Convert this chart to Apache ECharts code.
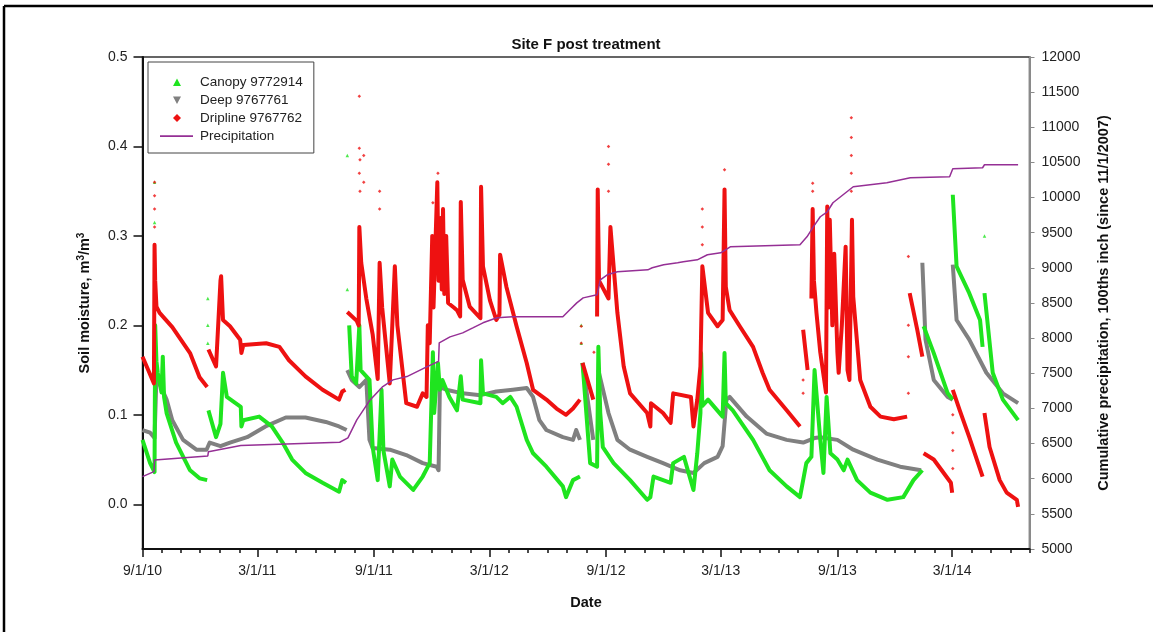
<!DOCTYPE html>
<html>
<head>
<meta charset="utf-8">
<script src="https://cdn.jsdelivr.net/npm/echarts@6/dist/echarts.min.js"></script>
<style>
  html, body { margin: 0; padding: 0; background: #fff; }
  #chart { width: 1153px; height: 632px; }
</style>
</head>
<body>
<div id="chart"></div>
<script>
// soil moisture readings, one list per logger, split where the logger has gaps
const canopySegments = [
  [['2010-09-01',0.072],['2010-09-13',0.046],['2010-09-20',0.036],['2010-09-21',0.20],['2010-09-23',0.16],['2010-09-25',0.147],['2010-10-01',0.125],['2010-10-03',0.165],['2010-10-05',0.12],['2010-10-09',0.102],['2010-10-24',0.069],['2010-11-15',0.038],['2010-11-30',0.029],['2010-12-12',0.027]],
  [['2010-12-14',0.105],['2010-12-26',0.075],['2011-01-02',0.09],['2011-01-06',0.147],['2011-01-12',0.12],['2011-02-03',0.109],['2011-02-04',0.087],['2011-02-07',0.094],['2011-03-04',0.098],['2011-03-24',0.087],['2011-04-10',0.069],['2011-04-25',0.05],['2011-05-16',0.035],['2011-06-12',0.024],['2011-07-08',0.014],['2011-07-13',0.027],['2011-07-19',0.024]],
  [['2011-07-24',0.20],['2011-07-28',0.143],['2011-08-04',0.135],['2011-08-09',0.20],['2011-08-11',0.15],['2011-08-25',0.139],['2011-08-30',0.064],['2011-09-07',0.027],['2011-09-13',0.128],['2011-09-16',0.06],['2011-09-26',0.02],['2011-09-30',0.05],['2011-10-12',0.031],['2011-11-02',0.016],['2011-11-17',0.031],['2011-11-28',0.046],['2011-12-03',0.17],['2011-12-05',0.102],['2011-12-11',0.158],['2011-12-14',0.128],['2011-12-18',0.139],['2011-12-29',0.12],['2012-01-10',0.105],['2012-01-16',0.143],['2012-01-19',0.117],['2012-02-16',0.113],['2012-02-17',0.161],['2012-02-20',0.124],['2012-03-12',0.12],['2012-03-22',0.113],['2012-04-03',0.12],['2012-04-13',0.109],['2012-04-29',0.072],['2012-05-09',0.057],['2012-05-30',0.042],['2012-06-25',0.02],['2012-06-30',0.008],['2012-07-11',0.027],['2012-07-22',0.031]],
  [['2012-07-26',0.158],['2012-08-07',0.046],['2012-08-18',0.042],['2012-08-20',0.176],['2012-08-23',0.102],['2012-08-27',0.064],['2012-09-13',0.046],['2012-10-09',0.027],['2012-11-05',0.005],['2012-11-10',0.008],['2012-11-15',0.031],['2012-12-12',0.024],['2012-12-16',0.046],['2013-01-02',0.053],['2013-01-17',0.016],['2013-01-23',0.057],['2013-01-28',0.102],['2013-01-29',0.169],['2013-01-31',0.11],['2013-02-09',0.117],['2013-03-04',0.098],['2013-03-07',0.169],['2013-03-09',0.113],['2013-03-20',0.105],['2013-04-21',0.072],['2013-05-17',0.038],['2013-06-13',0.02],['2013-07-04',0.008],['2013-07-14',0.046],['2013-07-22',0.053],['2013-07-27',0.15],['2013-08-05',0.072],['2013-08-10',0.035],['2013-08-15',0.12],['2013-08-21',0.057],['2013-09-01',0.05],['2013-09-11',0.038],['2013-09-17',0.05],['2013-10-02',0.027],['2013-10-23',0.013],['2013-11-19',0.005],['2013-12-14',0.008],['2013-12-30',0.027],['2014-01-13',0.038]],
  [['2014-01-15',0.199],['2014-01-31',0.169],['2014-02-22',0.124],['2014-03-02',0.117]],
  [['2014-03-02',0.346],['2014-03-08',0.266],['2014-03-28',0.236],['2014-04-14',0.206],['2014-04-18',0.176]],
  [['2014-04-21',0.236],['2014-05-04',0.147],['2014-05-20',0.117],['2014-06-13',0.094]]
];
const canopyDots = [['2010-09-20',0.36],['2010-09-20',0.315],['2010-09-20',0.25],['2010-12-13',0.23],['2010-12-13',0.2],['2010-12-13',0.18],['2011-07-21',0.39],['2011-07-21',0.24],['2012-07-24',0.2],['2012-07-24',0.18],['2014-04-21',0.30]];

const deepSegments = [
  [['2010-09-01',0.083],['2010-09-13',0.08],['2010-09-20',0.074],['2010-09-23',0.143],['2010-10-09',0.117],['2010-10-18',0.094],['2010-11-04',0.072],['2010-11-25',0.061],['2010-12-11',0.061],['2010-12-16',0.069],['2011-01-02',0.065],['2011-01-17',0.069],['2011-02-13',0.075],['2011-03-14',0.087],['2011-04-15',0.097],['2011-05-16',0.097],['2011-06-17',0.092],['2011-07-08',0.087],['2011-07-20',0.083]],
  [['2011-07-21',0.15],['2011-07-28',0.139],['2011-08-09',0.131],['2011-08-20',0.139],['2011-08-25',0.072],['2011-08-30',0.063],['2011-09-26',0.061],['2011-10-22',0.055],['2011-11-17',0.046],['2011-12-09',0.042],['2011-12-12',0.038],['2011-12-14',0.131],['2011-12-24',0.128],['2012-01-19',0.124],['2012-02-16',0.122],['2012-03-12',0.126],['2012-04-07',0.128],['2012-04-29',0.13],['2012-05-09',0.12],['2012-05-19',0.094],['2012-05-30',0.083],['2012-06-25',0.075],['2012-07-11',0.072],['2012-07-16',0.083],['2012-07-22',0.072]],
  [['2012-07-26',0.158],['2012-08-12',0.072]],
  [['2012-08-20',0.15],['2012-09-05',0.102],['2012-09-19',0.072],['2012-10-09',0.061],['2012-11-05',0.053],['2012-11-30',0.046],['2012-12-27',0.038],['2013-01-17',0.035],['2013-02-03',0.046],['2013-02-24',0.053],['2013-03-04',0.065],['2013-03-10',0.117],['2013-03-15',0.12],['2013-04-11',0.098],['2013-05-12',0.079],['2013-06-13',0.072],['2013-07-09',0.069],['2013-07-27',0.074],['2013-08-05',0.075],['2013-09-01',0.072],['2013-09-26',0.061],['2013-11-03',0.05],['2013-12-09',0.042],['2014-01-11',0.038]],
  [['2014-01-13',0.27],['2014-01-18',0.184],['2014-01-31',0.139],['2014-02-22',0.12],['2014-03-02',0.117]],
  [['2014-03-02',0.268],['2014-03-08',0.206],['2014-03-28',0.184],['2014-04-24',0.147],['2014-05-20',0.124],['2014-06-13',0.113]]
];

const driplineSegments = [
  [['2010-09-01',0.165],['2010-09-10',0.15],['2010-09-19',0.135],['2010-09-20',0.29],['2010-09-21',0.25],['2010-09-23',0.221],['2010-09-28',0.214],['2010-10-18',0.198],['2010-11-15',0.169],['2010-11-30',0.142],['2010-12-12',0.131]],
  [['2010-12-14',0.173],['2010-12-26',0.154],['2011-01-02',0.25],['2011-01-03',0.255],['2011-01-06',0.206],['2011-01-17',0.199],['2011-02-02',0.184],['2011-02-04',0.169],['2011-02-07',0.178],['2011-03-15',0.18],['2011-04-05',0.176],['2011-04-20',0.161],['2011-05-16',0.143],['2011-06-12',0.128],['2011-07-08',0.117],['2011-07-13',0.126],['2011-07-18',0.128]],
  [['2011-07-21',0.215],['2011-08-05',0.205],['2011-08-08',0.20],['2011-08-09',0.31],['2011-08-12',0.27],['2011-08-20',0.23],['2011-08-30',0.19],['2011-09-07',0.14],['2011-09-10',0.27],['2011-09-14',0.22],['2011-09-26',0.135],['2011-10-04',0.266],['2011-10-08',0.2],['2011-10-22',0.113],['2011-11-08',0.109],['2011-11-17',0.124],['2011-11-23',0.12],['2011-11-25',0.2],['2011-11-28',0.18],['2011-12-02',0.30],['2011-12-04',0.22],['2011-12-10',0.36],['2011-12-12',0.25],['2011-12-15',0.32],['2011-12-17',0.24],['2011-12-19',0.33],['2011-12-21',0.235],['2011-12-24',0.30],['2011-12-27',0.225],['2012-01-05',0.22],['2012-01-10',0.217],['2012-01-15',0.21],['2012-01-16',0.338],['2012-01-19',0.251],['2012-01-30',0.221],['2012-02-16',0.208],['2012-02-17',0.355],['2012-02-20',0.266],['2012-03-02',0.228],['2012-03-12',0.206],['2012-03-17',0.212],['2012-03-18',0.279],['2012-03-28',0.243],['2012-04-13',0.199],['2012-04-29',0.158],['2012-05-09',0.128],['2012-05-30',0.117],['2012-06-15',0.107],['2012-06-30',0.10],['2012-07-11',0.107],['2012-07-22',0.117]],
  [['2012-07-26',0.158],['2012-08-12',0.117]],
  [['2012-08-18',0.21],['2012-08-19',0.352],['2012-08-21',0.25],['2012-09-05',0.23],['2012-09-08',0.31],['2012-09-19',0.214],['2012-09-29',0.154],['2012-10-09',0.124],['2012-11-05',0.102],['2012-11-10',0.087],['2012-11-11',0.113],['2012-11-30',0.102],['2012-12-12',0.091],['2012-12-16',0.124],['2013-01-13',0.12],['2013-01-17',0.087],['2013-01-23',0.117],['2013-01-28',0.154],['2013-01-31',0.266],['2013-02-09',0.214],['2013-02-24',0.199],['2013-03-04',0.206],['2013-03-07',0.352],['2013-03-09',0.243],['2013-03-15',0.217],['2013-03-31',0.199],['2013-04-21',0.176],['2013-05-06',0.147],['2013-05-17',0.128],['2013-06-13',0.105],['2013-07-04',0.087]],
  [['2013-07-09',0.195],['2013-07-16',0.15]],
  [['2013-07-22',0.23],['2013-07-24',0.33],['2013-07-26',0.25],['2013-07-30',0.214],['2013-08-05',0.17],['2013-08-14',0.125],['2013-08-16',0.333],['2013-08-18',0.22],['2013-08-20',0.318],['2013-08-24',0.2],['2013-08-27',0.28],['2013-09-01',0.17],['2013-09-03',0.147],['2013-09-08',0.2],['2013-09-14',0.288],['2013-09-17',0.15],['2013-09-20',0.139],['2013-09-24',0.318],['2013-09-26',0.232],['2013-10-07',0.139],['2013-10-23',0.109],['2013-11-08',0.098],['2013-11-29',0.095],['2013-12-20',0.098]],
  [['2013-12-24',0.236],['2014-01-05',0.195],['2014-01-13',0.165]],
  [['2014-01-15',0.057],['2014-01-31',0.05],['2014-02-27',0.024],['2014-03-01',0.013]],
  [['2014-03-02',0.128],['2014-03-13',0.105],['2014-03-28',0.075],['2014-04-18',0.031]],
  [['2014-04-21',0.102],['2014-04-29',0.064],['2014-05-15',0.027],['2014-05-26',0.013],['2014-06-11',0.005],['2014-06-13',-0.003]]
];
const driplineDots = [['2010-09-20',0.36],['2010-09-20',0.345],['2010-09-20',0.33],['2010-09-20',0.31],['2011-08-09',0.456],['2011-08-09',0.398],['2011-08-10',0.385],['2011-08-09',0.37],['2011-08-10',0.35],['2011-08-16',0.39],['2011-08-16',0.36],['2011-09-10',0.35],['2011-09-10',0.33],['2011-12-03',0.337],['2011-12-11',0.37],['2012-09-05',0.40],['2012-09-05',0.38],['2012-09-05',0.35],['2012-07-24',0.199],['2012-07-24',0.18],['2012-08-13',0.17],['2013-01-31',0.33],['2013-01-31',0.31],['2013-01-31',0.29],['2013-03-07',0.374],['2013-07-24',0.359],['2013-07-24',0.35],['2013-09-23',0.432],['2013-09-23',0.41],['2013-09-23',0.39],['2013-09-23',0.37],['2013-09-23',0.35],['2013-12-22',0.277],['2013-12-22',0.2],['2013-12-22',0.165],['2013-12-22',0.124],['2014-03-02',0.04],['2014-03-02',0.06],['2014-03-02',0.08],['2014-03-02',0.10],['2013-07-09',0.139],['2013-07-09',0.124]];

// cumulative precipitation, 100ths inch since 11/1/2007
const precipitation = [['2010-09-01',6029],['2010-09-19',6100],['2010-09-20',6267],['2010-12-13',6324],['2010-12-14',6385],['2011-02-03',6471],['2011-07-09',6519],['2011-07-22',6580],['2011-08-05',6837],['2011-08-26',7121],['2011-09-15',7311],['2011-10-01',7406],['2011-10-23',7453],['2011-11-24',7595],['2011-12-12',7670],['2011-12-13',7933],['2011-12-30',8018],['2012-01-19',8075],['2012-02-04',8146],['2012-02-20',8218],['2012-03-13',8289],['2012-04-07',8303],['2012-06-25',8303],['2012-07-06',8403],['2012-07-17',8502],['2012-07-27',8573],['2012-08-18',8616],['2012-08-23',8830],['2012-09-03',8901],['2012-09-19',8944],['2012-11-06',8972],['2012-11-13',9001],['2012-12-01',9043],['2012-12-23',9072],['2013-01-01',9086],['2013-01-23',9114],['2013-02-08',9186],['2013-03-01',9214],['2013-03-16',9300],['2013-07-04',9328],['2013-07-15',9442],['2013-07-25',9584],['2013-08-05',9727],['2013-08-16',9798],['2013-08-25',9926],['2013-09-16',10083],['2013-09-26',10154],['2013-11-18',10211],['2013-12-25',10282],['2014-02-25',10296],['2014-03-02',10410],['2014-04-18',10424],['2014-04-21',10467],['2014-06-13',10467]];

// axis ticks
const moistureTicks = [0, 0.1, 0.2, 0.3, 0.4, 0.5];
const majorDates = ['2010-09-01','2011-03-01','2011-09-01','2012-03-01','2012-09-01','2013-03-01','2013-09-01','2014-03-01'];

const FONT = '"Liberation Sans", Arial, sans-serif';
const GREEN = '#1fe41f', GRAY = '#808080', RED = '#ee1111', PURPLE = '#952f95';

function ts(s) {
  var p = s.split('-');
  return Date.UTC(+p[0], +p[1] - 1, +p[2]);
}
function points(list) {
  return list.map(function (p) { return [ts(p[0]), p[1]]; });
}
// join segments, '-' breaks the line between them
function joinSegments(segs) {
  var out = [];
  segs.forEach(function (s, i) {
    if (i > 0) out.push([ts(s[0][0]), '-']);
    points(s).forEach(function (p) { out.push(p); });
  });
  return out;
}

var majorTicks = majorDates.map(ts);
var monthTicks = [];
for (var m = 0; m <= 46; m++) monthTicks.push(Date.UTC(2010, 8 + m, 1));
var xMin = Date.UTC(2010, 8, 1), xMax = Date.UTC(2014, 6, 1);

function lineSeries(name, segs, color) {
  return {
    name: name, type: 'line', data: joinSegments(segs),
    showSymbol: false, symbol: 'none', connectNulls: false,
    lineStyle: { color: color, width: 4, join: 'round' },
    itemStyle: { color: color }
  };
}
function dotSeries(name, dots, color, symbol) {
  return {
    name: name, type: 'scatter', data: points(dots), symbol: symbol, symbolSize: 3.5,
    itemStyle: { color: color }
  };
}

// legend icons: the leading moves fix the 35x9 box so the marks keep their shape
var ICON_BOX = 'M0,0 M35,9 ';

var myChart = echarts.init(document.getElementById('chart'), null, { renderer: 'canvas' });
myChart.setOption({
  animation: false,
  backgroundColor: '#fff',
  textStyle: { fontFamily: FONT },
  title: {
    text: 'Site F post treatment',
    left: 586, top: 37, textAlign: 'center', padding: 0,
    textStyle: { fontSize: 15, fontWeight: 'bold', color: '#111', fontFamily: FONT }
  },
  legend: {
    orient: 'vertical', left: 148, top: 62,
    padding: [13, 11, 10, 12],
    itemWidth: 35, itemHeight: 9, itemGap: 4,
    borderColor: '#444', borderWidth: 1,
    textStyle: { fontSize: 13.5, color: '#222', fontFamily: FONT },
    data: [
      { name: 'Canopy 9772914', icon: 'path://' + ICON_BOX + 'M13,8.5 L17,1 L21,8.5 Z', itemStyle: { color: GREEN } },
      { name: 'Deep 9767761', icon: 'path://' + ICON_BOX + 'M13,1 L21,1 L17,8.5 Z', itemStyle: { color: GRAY } },
      { name: 'Dripline 9767762', icon: 'path://' + ICON_BOX + 'M17,0.5 L21,4.5 L17,8.5 L13,4.5 Z', itemStyle: { color: RED } },
      { name: 'Precipitation', icon: 'path://' + ICON_BOX + 'M0,3.8 L33,3.8 L33,5.4 L0,5.4 Z', itemStyle: { color: PURPLE } }
    ]
  },
  grid: {
    left: 142.5, right: 123.5, top: 57, bottom: 83,
    show: true, borderColor: '#333', borderWidth: 1.5
  },
  xAxis: [{
    type: 'value', min: xMin, max: xMax,
    name: 'Date', nameLocation: 'middle', nameGap: 46,
    nameTextStyle: { fontSize: 14.5, fontWeight: 'bold', color: '#111' },
    axisLine: { onZero: false, lineStyle: { color: '#111', width: 2 } },
    axisTick: { customValues: majorTicks, length: 8, lineStyle: { color: '#111', width: 1.5 } },
    axisLabel: {
      customValues: majorTicks, fontSize: 14, color: '#222', margin: 15,
      formatter: function (v) {
        var d = new Date(v);
        return (d.getUTCMonth() + 1) + '/' + d.getUTCDate() + '/' + String(d.getUTCFullYear()).slice(2);
      }
    },
    splitLine: { show: false }
  }, {
    type: 'value', min: xMin, max: xMax, position: 'bottom',
    axisLine: { show: false, onZero: false },
    axisTick: { customValues: monthTicks, length: 4, lineStyle: { color: '#111', width: 1.5 } },
    axisLabel: { show: false },
    splitLine: { show: false }
  }],
  yAxis: [{
    type: 'value', min: -0.05, max: 0.5,
    name: 'Soil moisture, m{sup|3}/m{sup|3}', nameLocation: 'middle', nameGap: 50, nameRotate: 90,
    nameTextStyle: {
      fontSize: 14.5, fontWeight: 'bold', color: '#111',
      rich: { sup: { fontSize: 10, fontWeight: 'bold', color: '#111', verticalAlign: 'top', padding: [0, 0, 6, 0] } }
    },
    axisLine: { show: true, onZero: false, lineStyle: { color: '#111', width: 2 } },
    axisTick: { show: true, customValues: moistureTicks, length: 9, lineStyle: { color: '#111', width: 1.5 } },
    axisLabel: {
      customValues: moistureTicks, fontSize: 14, color: '#222', margin: 15,
      formatter: function (v) { return v.toFixed(1); }
    },
    splitLine: { show: false }
  }, {
    type: 'value', min: 5000, max: 12000, interval: 500, position: 'right',
    name: 'Cumulative precipitation, 100ths inch (since 11/1/2007)',
    nameLocation: 'middle', nameGap: 67, nameRotate: 90,
    nameTextStyle: { fontSize: 14.5, fontWeight: 'bold', color: '#111' },
    axisLine: { show: true, onZero: false, lineStyle: { color: '#8a8a8a', width: 2 } },
    axisTick: { show: true, length: 5, lineStyle: { color: '#8a8a8a', width: 1 } },
    axisLabel: { fontSize: 14, color: '#222', margin: 12, formatter: function (v) { return String(v); } },
    splitLine: { show: false }
  }],
  series: [
    lineSeries('Deep 9767761', deepSegments, GRAY),
    lineSeries('Canopy 9772914', canopySegments, GREEN),
    dotSeries('Canopy 9772914', canopyDots, GREEN, 'triangle'),
    lineSeries('Dripline 9767762', driplineSegments, RED),
    dotSeries('Dripline 9767762', driplineDots, RED, 'diamond'),
    {
      name: 'Precipitation', type: 'line', yAxisIndex: 1, data: points(precipitation),
      showSymbol: false, symbol: 'none',
      lineStyle: { color: PURPLE, width: 1.5 }, itemStyle: { color: PURPLE }, z: 3
    }
  ],
  graphic: [
    { type: 'line', shape: { x1: 4, y1: 6, x2: 1153, y2: 6 }, style: { stroke: '#000', lineWidth: 2.5 } },
    { type: 'line', shape: { x1: 4, y1: 6, x2: 4, y2: 632 }, style: { stroke: '#000', lineWidth: 2.5 } }
  ]
});

window.addEventListener('resize', function () {
  myChart.resize();
});
</script>
</body>
</html>
